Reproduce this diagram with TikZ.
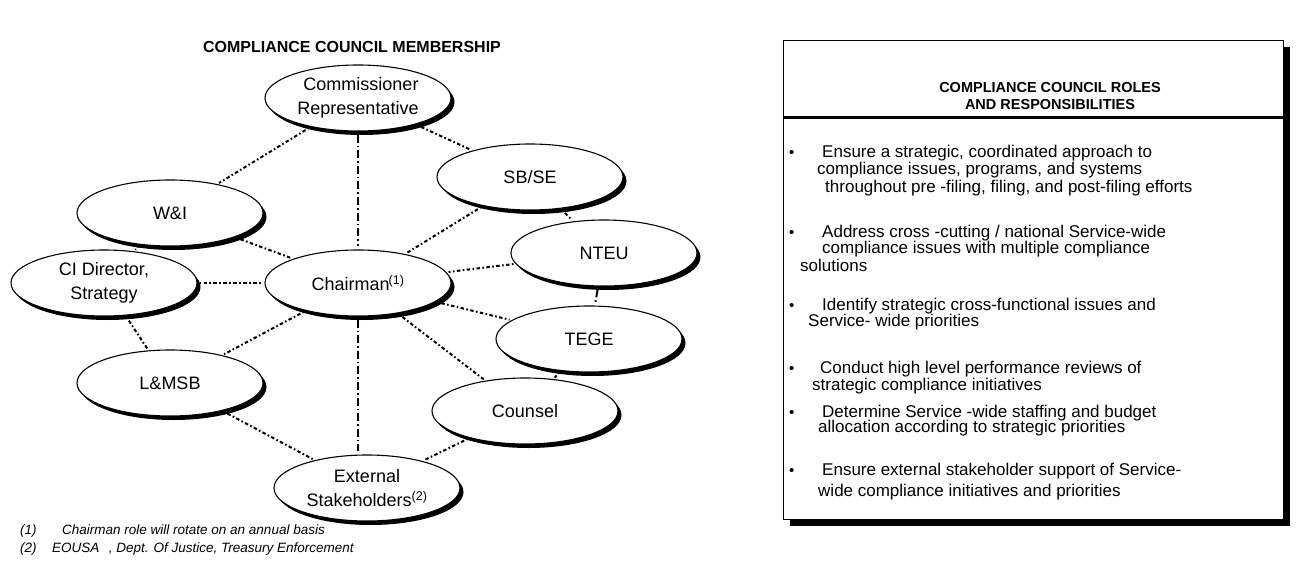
\documentclass[tikz,border=0pt]{standalone}
\usepackage{fontspec}
\setmainfont{Liberation Sans}
\usetikzlibrary{shapes.geometric,shadows}
\tikzset{
  member/.style={ellipse, draw, line width=1.1pt, fill=white, minimum width=186pt, minimum height=66pt,
    inner sep=0pt, align=center, font=\fontsize{18}{24}\selectfont,
    drop shadow={shadow xshift=3.5pt, shadow yshift=-4pt, fill=black, opacity=1}},
  link/.style={line width=2pt, dash pattern=on 1.6pt off 2.4pt on 3.5pt off 2.4pt, shorten >=2pt, shorten <=2pt},
  vlink/.style={line width=2pt, dash pattern=on 8pt off 3pt on 1.6pt off 3pt, shorten >=3pt, shorten <=3pt},
  roletext/.style={anchor=base west, inner sep=0pt, font=\fontsize{17}{19}\selectfont},
  bul/.style={anchor=base west, inner sep=0pt, font=\fontsize{15}{19}\selectfont},
  foot/.style={anchor=base west, inner sep=0pt, font=\itshape\fontsize{13.5}{15}\selectfont},
  head/.style={font=\bfseries\fontsize{14.5}{16.5}\selectfont, align=center, inner sep=0pt}
}
\begin{document}
\begin{tikzpicture}[x=1pt,y=-1pt]
\useasboundingbox (0,0) rectangle (1297,569);

% left title
\node[head, font=\bfseries\fontsize{16}{18}\selectfont] (ltitle) at (352,47) {COMPLIANCE COUNCIL MEMBERSHIP};

% members
\node[member] (comm) at (358,98) {\kern6pt Commissioner\\Representative};
\node[member] (sbse) at (530,177) {SB/SE};
\node[member] (wi)   at (170,213) {W\&I};
\node[member] (nteu) at (604,253) {NTEU};
\node[member] (ci)   at (104,283) {CI Director,\\Strategy};
\node[member] (chair) at (358,283) {Chairman\kern-1pt\textsuperscript{(1)}};
\node[member] (tege) at (589,339) {TEGE};
\node[member] (lmsb) at (170,383) {L\&MSB};
\node[member] (coun) at (525,411) {Counsel};
\node[member] (ext)  at (367,488) {External\\Stakeholders\textsuperscript{(2)}};

% connectors
\draw[link] (comm) -- (wi);
\draw[link] (comm) -- (sbse);
\draw[vlink] (comm.south) -- (chair.north);
\draw[link] (wi) -- (chair);
\draw[link] (wi) -- (ci);
\draw[link] (sbse) -- (chair);
\draw[link] (sbse) -- (nteu);
\draw[link] (nteu) -- (chair);
\draw[vlink] (nteu) -- (tege);
\draw[link] (ci) -- (chair);
\draw[link] (ci) -- (lmsb);
\draw[link] (chair) -- (tege);
\draw[link] (chair) -- (lmsb);
\draw[link] (chair) -- (coun);
\draw[vlink] (chair.south) -- (ext.north -| chair.south);
\draw[link] (tege) -- (coun);
\draw[link] (lmsb) -- (ext);
\draw[link] (coun) -- (ext);

% footnotes
\node[foot] (f1n) at (20,534) {(1)};
\node[foot] (f1t) at (62,534) {Chairman role will rotate on an annual basis};
\node[foot] (f2n) at (20,552) {(2)};
\node[foot] (f2t) at (52,552) {EOUSA\hspace{0.7em}, Dept. Of Justice, Treasury Enforcement};

% right panel
\fill[black] (790,47) rectangle (1290,526);
\draw[fill=white, line width=0.6pt] (783,40) rectangle (1283,519);
\draw[line width=3pt] (783,118) -- (1283,118);
\node[head] (rtitle) at (1050,96) {COMPLIANCE COUNCIL ROLES\\AND RESPONSIBILITIES};

\node[bul] (b1) at (789,158) {•};
\node[roletext] (t1a) at (822,158) {Ensure a strategic, coordinated approach to};
\node[roletext] (t1b) at (817,175) {compliance issues, programs, and systems};
\node[roletext] (t1c) at (825,193) {throughout pre -filing, filing, and post-filing efforts};

\node[bul] (b2) at (789,238) {•};
\node[roletext] (t2a) at (822,238) {Address cross -cutting / national Service-wide};
\node[roletext] (t2b) at (822,254) {compliance issues with multiple compliance};
\node[roletext] (t2c) at (800,271) {solutions};

\node[bul] (b3) at (789,310) {•};
\node[roletext] (t3a) at (822,310) {Identify strategic cross-functional issues and};
\node[roletext] (t3b) at (808,326) {Service- wide priorities};

\node[bul] (b4) at (789,373) {•};
\node[roletext] (t4a) at (820,373) {Conduct high level performance reviews of};
\node[roletext] (t4b) at (812,390) {strategic compliance initiatives};

\node[bul] (b5) at (789,417) {•};
\node[roletext] (t5a) at (822,417) {Determine Service -wide staffing and budget};
\node[roletext] (t5b) at (818,432) {allocation according to strategic priorities};

\node[bul] (b6) at (789,475) {•};
\node[roletext] (t6a) at (822,475) {Ensure external stakeholder support of Service-};
\node[roletext] (t6b) at (818,496) {wide compliance initiatives and priorities};
\end{tikzpicture}
\end{document}
